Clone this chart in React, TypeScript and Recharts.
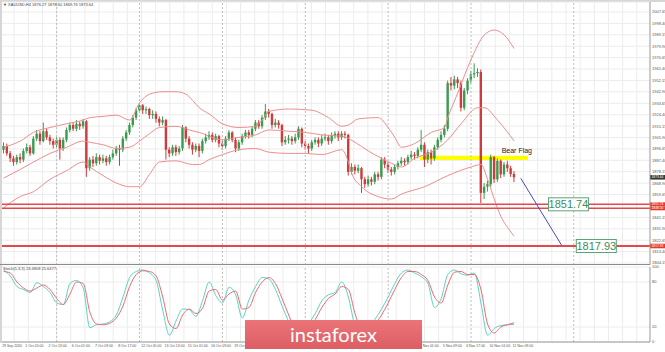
import React from "react";
import {
  ComposedChart,
  Bar,
  Line,
  XAxis,
  YAxis,
  CartesianGrid,
  ReferenceLine,
  ReferenceArea,
  ReferenceDot,
} from "recharts";

const FONT = "'Liberation Sans', Arial, sans-serif";
const GREEN = "#3a9a50";
const RED = "#d03a3a";
const BAND = "#ee8e8e";
const LEVEL = "#e24a4a";

// XAUUSD H4, 29 Sep - 11 Nov 2020 (bar index = position)
const firstOpen = 1896;
const closes = [
  1899, 1893, 1889, 1886, 1890, 1888, 1895, 1898, 1893, 1905,
  1909, 1903, 1911, 1906, 1903, 1900, 1904, 1897, 1904, 1912,
  1916, 1913, 1917, 1915, 1919, 1881, 1888, 1885, 1890, 1887,
  1889, 1886, 1890, 1893, 1897, 1896, 1905, 1910, 1916, 1922,
  1928, 1932, 1928, 1929, 1924, 1925, 1921, 1918, 1920, 1896,
  1893, 1898, 1894, 1897, 1914, 1905, 1900, 1896, 1899, 1895,
  1903, 1906, 1908, 1904, 1907, 1901, 1899, 1905, 1910, 1904,
  1897, 1902, 1907, 1910, 1908, 1913, 1918, 1915, 1922, 1927,
  1925, 1916, 1918, 1916, 1902, 1904, 1905, 1903, 1906, 1913,
  1901, 1899, 1897, 1902, 1904, 1901, 1905, 1906, 1903, 1907,
  1909, 1906, 1909, 1908, 1878, 1882, 1879, 1881, 1872, 1868,
  1872, 1870, 1876, 1874, 1888, 1884, 1880, 1878, 1882, 1885,
  1887, 1886, 1890, 1892, 1891, 1896, 1900, 1888, 1894, 1889,
  1898, 1904, 1908, 1913, 1950, 1948, 1953, 1950, 1930, 1944,
  1952, 1957, 1958, 1959, 1861, 1866, 1868, 1890, 1872, 1887,
  1876, 1884, 1881, 1876.27, 1873.64,
];
const highs = [
  1902, 1901, 1895, 1891, 1892, 1893, 1897, 1901, 1900, 1907,
  1912, 1911, 1918, 1913, 1908, 1905, 1906, 1906, 1906, 1914,
  1918, 1918, 1920, 1919, 1921, 1920, 1890, 1891, 1893, 1892,
  1892, 1891, 1892, 1896, 1899, 1900, 1907, 1912, 1918, 1924,
  1930, 1934, 1933, 1931, 1930, 1928, 1927, 1923, 1923, 1921,
  1898, 1900, 1900, 1899, 1916, 1915, 1907, 1902, 1901, 1901,
  1905, 1909, 1911, 1910, 1909, 1908, 1903, 1907, 1912, 1911,
  1906, 1904, 1909, 1912, 1912, 1915, 1920, 1920, 1924, 1933,
  1929, 1926, 1921, 1920, 1917, 1907, 1908, 1907, 1909, 1915,
  1914, 1903, 1901, 1904, 1906, 1906, 1908, 1909, 1908, 1910,
  1911, 1911, 1911, 1911, 1909, 1885, 1884, 1884, 1882, 1874,
  1875, 1874, 1878, 1878, 1890, 1890, 1886, 1882, 1884, 1887,
  1890, 1889, 1892, 1895, 1894, 1898, 1912, 1902, 1896, 1896,
  1900, 1906, 1911, 1916, 1952, 1955, 1956, 1955, 1952, 1946,
  1954, 1960, 1966, 1962, 1961, 1869, 1871, 1892, 1891, 1889,
  1888, 1886, 1887, 1883, 1878.6,
];
const lows = [
  1893, 1891, 1886, 1883, 1884, 1885, 1886, 1893, 1891, 1892,
  1903, 1900, 1902, 1904, 1900, 1897, 1898, 1888, 1895, 1902,
  1910, 1911, 1911, 1912, 1913, 1874, 1879, 1882, 1883, 1884,
  1885, 1883, 1884, 1888, 1891, 1883, 1894, 1903, 1908, 1914,
  1920, 1926, 1925, 1925, 1921, 1921, 1918, 1915, 1916, 1888,
  1890, 1891, 1891, 1892, 1895, 1902, 1897, 1892, 1894, 1890,
  1893, 1901, 1904, 1902, 1902, 1898, 1896, 1897, 1903, 1902,
  1894, 1895, 1900, 1905, 1905, 1906, 1911, 1913, 1913, 1920,
  1922, 1913, 1914, 1913, 1899, 1900, 1901, 1900, 1901, 1904,
  1898, 1896, 1893, 1895, 1900, 1898, 1899, 1903, 1900, 1901,
  1905, 1903, 1904, 1905, 1875, 1876, 1876, 1877, 1861, 1865,
  1866, 1867, 1868, 1871, 1872, 1881, 1877, 1875, 1876, 1880,
  1883, 1883, 1884, 1888, 1888, 1889, 1894, 1882, 1885, 1884,
  1887, 1896, 1902, 1906, 1911, 1944, 1945, 1946, 1927, 1928,
  1941, 1950, 1954, 1955, 1852.8, 1856, 1862, 1866, 1869, 1870,
  1873, 1874, 1878, 1874, 1869.76,
];

// Bollinger bands: [bar index, price]
const upperBand = [
  [0, 1898], [5, 1903], [9, 1910], [14, 1914], [19, 1917], [24, 1920],
  [26, 1922], [30, 1923], [34, 1924], [38, 1920], [41, 1934], [44, 1941],
  [48, 1943], [52, 1943], [55, 1941], [57, 1936], [59, 1930], [62, 1925],
  [66, 1917], [71, 1914], [76, 1915], [78, 1920], [80, 1927], [86, 1929],
  [93, 1928], [98, 1922], [102, 1915], [104, 1916], [107, 1921], [113, 1922],
  [116, 1914], [118, 1906], [120, 1898], [124, 1901], [129, 1910], [133, 1914],
  [134, 1922], [137, 1942], [141, 1969], [145, 1989], [148, 1993], [151, 1989],
  [154, 1978],
];
const middleBand = [
  [0, 1873], [5, 1880], [9, 1886], [14, 1893], [19, 1898], [24, 1903],
  [26, 1902], [30, 1900], [34, 1897], [38, 1898], [41, 1903], [44, 1909],
  [47, 1914], [52, 1915], [56, 1912], [59, 1910], [66, 1904], [71, 1906],
  [76, 1908], [80, 1912], [86, 1911], [91, 1910], [96, 1908], [102, 1907],
  [106, 1902], [110, 1895], [114, 1889], [117, 1885], [120, 1882], [124, 1889],
  [129, 1894], [134, 1904], [138, 1917], [143, 1930], [145, 1930], [149, 1920],
  [154, 1903],
];
const lowerBand = [
  [0, 1849], [5, 1858], [9, 1862], [14, 1872], [19, 1879], [24, 1886],
  [26, 1882], [30, 1875], [34, 1869], [38, 1866], [41, 1866], [44, 1876],
  [47, 1886], [52, 1887], [57, 1884], [59, 1884], [62, 1888], [66, 1892],
  [71, 1896], [76, 1897], [80, 1894], [86, 1893], [91, 1893], [96, 1892],
  [102, 1896], [104, 1886], [105, 1877], [108, 1866], [113, 1858], [117, 1856],
  [120, 1860], [127, 1866], [134, 1875], [141, 1882], [144, 1884], [146, 1872],
  [148, 1856], [150, 1842], [152, 1833], [154, 1826],
];

// Stochastic, one value every second bar
const stochMain = [
  96, 88, 74, 70, 66, 79, 74, 66, 52, 50,
  78, 82, 72, 19, 23, 24, 27, 36, 60, 86,
  94, 96, 92, 82, 42, 9, 28, 44, 43, 34,
  55, 80, 62, 52, 73, 63, 32, 56, 74, 86,
  84, 70, 48, 27, 10, 12, 24, 38, 55, 63,
  66, 80, 60, 22, 12, 18, 30, 44, 60, 78,
  92, 96, 92, 87, 78, 46, 58, 90, 96, 91,
  89, 92, 52, 9, 18, 22, 23, 23.5,
];
const stochSignal = [
  94, 92, 80, 72, 68, 72, 76, 70, 58, 50,
  64, 80, 78, 40, 24, 23, 25, 32, 48, 74,
  90, 95, 94, 88, 60, 24, 18, 36, 44, 38,
  45, 68, 70, 56, 64, 68, 44, 46, 66, 80,
  86, 78, 58, 36, 16, 10, 18, 30, 46, 58,
  64, 74, 70, 38, 16, 14, 24, 36, 52, 70,
  86, 94, 94, 90, 82, 60, 52, 76, 93, 94,
  90, 90, 70, 24, 12, 20, 23, 25.6,
];

// 1850.40 sits under the red price tags in the source, so it is not printed
const priceTicks = [
  1804.15, 1813.4, 1822.65, 1831.9, 1841.15, 1859.65, 1868.9,
  1878.15, 1887.4, 1896.65, 1905.9, 1915.15, 1924.4, 1933.65, 1942.9,
  1952.15, 1961.4, 1970.65, 1979.9, 1989.15, 1998.4, 2007.65,
];
const stochTicks = [0, 20, 80, 100];
// labels that sit under the instaforex badge are hidden in the source, so they are left out
const timeTicks = [
  0, 7, 14, 21, 28, 35, 42, 49, 56, 63, 70, 126, 133, 140, 147, 154,
];
const timeLabels = [
  "29 Sep 2020", "1 Oct 05:00", "2 Oct 13:00", "6 Oct 01:00", "7 Oct 09:00",
  "8 Oct 17:00", "12 Oct 05:00", "13 Oct 13:00", "15 Oct 01:00", "16 Oct 09:00",
  "19 Oct 17:00", "4 Nov 01:00", "5 Nov 09:00", "6 Nov 17:00", "10 Nov 01:00",
  "11 Nov 09:00",
];
const weekStarts = [16, 41, 66, 91, 116, 141, 172];

const support1 = 1851.74;
const support1b = 1848.5;
const target = 1817.93;
const lastPrice = 1873.64;

const X_DOMAIN = [-0.5, 195];

const bandAt = (list: number[][], i: number) => {
  const hit = list.find((p) => p[0] === i);
  return hit ? hit[1] : undefined;
};

const candles = closes.map((close, i) => ({
  i,
  open: i === 0 ? firstOpen : closes[i - 1],
  close,
  high: highs[i],
  low: lows[i],
  range: [lows[i], highs[i]],
  upper: bandAt(upperBand, i),
  middle: bandAt(middleBand, i),
  lower: bandAt(lowerBand, i),
}));

const stochData = stochMain.map((v, k) => ({ i: k * 2, main: v, signal: stochSignal[k] }));

// light grid every ~14px like the terminal
const gridX = ({ offset }: any) => {
  const out: number[] = [];
  for (let px = 14.15; px < offset.left + offset.width; px += 14.15) out.push(px);
  return out;
};

const Candle = (props: any) => {
  const { x, y, width, height } = props;
  const d = props.payload || props;
  if (x == null || y == null || d.high == null) return null;
  const top = Math.min(y, y + height);
  const h = Math.abs(height);
  const span = d.high - d.low || 1;
  const toY = (v: number) => top + ((d.high - v) / span) * h;
  const cx = x + width / 2;
  const color = d.close >= d.open ? GREEN : RED;
  const bTop = toY(Math.max(d.open, d.close));
  const bBot = toY(Math.min(d.open, d.close));
  return (
    <g>
      <line x1={cx} x2={cx} y1={top} y2={top + h} stroke={color} strokeWidth={1} />
      <rect x={cx - 1.2} y={bTop} width={2.4} height={Math.max(bBot - bTop, 1)} fill={color} />
    </g>
  );
};

const AxisTag = ({ viewBox, text, fill, h = 4 }: any) => {
  if (!viewBox) return null;
  const x = viewBox.x + viewBox.width;
  const y = viewBox.y;
  return (
    <g>
      <rect x={x} y={y - h / 2} width={15} height={h} fill={fill} />
      <text x={x + 1.5} y={y + 1.1} fontSize={3.3} fill="#fff" fontFamily={FONT}>
        {text}
      </text>
    </g>
  );
};

const FlagLabel = ({ viewBox }: any) => {
  if (!viewBox) return null;
  return (
    <text
      x={viewBox.x + viewBox.width + 4}
      y={viewBox.y - 3}
      textAnchor="end"
      fontSize={7}
      fill="#222"
      fontFamily={FONT}
    >
      Bear Flag
    </text>
  );
};

const ValueBox = ({ cx, cy, text }: any) => {
  if (cx == null) return null;
  return (
    <g>
      <rect x={cx - 20} y={cy - 6.5} width={40} height={13} fill="#fff" stroke="#5aa47a" strokeWidth={1} />
      <text x={cx} y={cy + 4} textAnchor="middle" fontSize={11} fill="#3d8c5e" fontFamily={FONT}>
        {text}
      </text>
    </g>
  );
};

const TimeTick = ({ x, y, payload }: any) => {
  const idx = timeTicks.indexOf(payload.value);
  return (
    <text x={x - 1.5} y={y + 3.5} fontSize={3.5} fill="#555" fontFamily={FONT}>
      {timeLabels[idx]}
    </text>
  );
};

export default function App() {
  const axisTick = { fontSize: 4, fill: "#555", fontFamily: FONT };
  return (
    <div
      style={{
        position: "absolute",
        left: 0,
        top: 0,
        width: 665,
        height: 352,
        background: "#fff",
        overflow: "hidden",
        fontFamily: FONT,
      }}
    >
      <div style={{ position: "absolute", left: 0, top: 0, width: 665, height: 2, background: "#d6d6d6" }} />
      <div style={{ position: "absolute", left: 0, top: 0, width: 2, height: 343, background: "#d6d6d6" }} />

      <div style={{ position: "absolute", left: 0, top: 0 }}>
        <ComposedChart width={665} height={265} data={candles} margin={{ top: 2, right: 0, bottom: 0, left: 2 }}>
          <CartesianGrid stroke="#ececec" verticalCoordinatesGenerator={gridX} />
          <XAxis dataKey="i" type="number" domain={X_DOMAIN} hide allowDataOverflow />
          <YAxis
            orientation="right"
            width={15}
            domain={[1802.53, 2015.74]}
            ticks={priceTicks}
            interval={0}
            allowDataOverflow
            tick={axisTick}
            tickLine={false}
            tickSize={0}
            tickMargin={2}
            axisLine={{ stroke: "#999" }}
            tickFormatter={(v: number) => v.toFixed(2)}
          />
          {weekStarts.map((w) => (
            <ReferenceLine key={w} x={w} stroke="#bdbdbd" strokeDasharray="2 2" />
          ))}
          <ReferenceArea
            x1={125.6}
            x2={158.2}
            y1={1887.7}
            y2={1891}
            fill="#ffff00"
            fillOpacity={1}
            stroke="none"
            label={<FlagLabel />}
          />
          <Line dataKey="upper" type="monotone" stroke={BAND} strokeWidth={1} dot={false} connectNulls isAnimationActive={false} />
          <Line dataKey="middle" type="monotone" stroke={BAND} strokeWidth={1} dot={false} connectNulls isAnimationActive={false} />
          <Line dataKey="lower" type="monotone" stroke={BAND} strokeWidth={1} dot={false} connectNulls isAnimationActive={false} />
          <Bar dataKey="range" barSize={3} shape={<Candle />} isAnimationActive={false} />
          <ReferenceLine y={support1} stroke={LEVEL} strokeWidth={1.6} label={<AxisTag text="1851.74" fill="#e53935" />} />
          <ReferenceLine y={support1b} stroke={LEVEL} strokeWidth={1.6} label={<AxisTag text="1848.50" fill="#e53935" />} />
          <ReferenceLine y={target} stroke={LEVEL} strokeWidth={1.8} label={<AxisTag text="1817.93" fill="#e53935" h={4.6} />} />
          <ReferenceLine y={lastPrice} stroke="none" strokeOpacity={0} label={<AxisTag text="1873.64" fill="#3a3a3a" h={4.6} />} />
          <ReferenceLine
            segment={[
              { x: 156, y: 1872.8 },
              { x: 168.3, y: 1818.7 },
            ]}
            stroke="#4a4ac8"
            strokeWidth={1}
          />
          <ReferenceDot x={170.4} y={support1} r={1} shape={<ValueBox text="1851.74" />} />
          <ReferenceDot x={178.8} y={target} r={1} shape={<ValueBox text="1817.93" />} />
        </ComposedChart>
      </div>

      <div style={{ position: "absolute", left: 0, top: 263.5, width: 650, height: 1.5, background: "#8c8c8c" }} />

      <div style={{ position: "absolute", left: 0, top: 265 }}>
        <ComposedChart width={665} height={86} data={stochData} margin={{ top: 2, right: 0, bottom: 0, left: 2 }}>
          <CartesianGrid stroke="#ececec" verticalCoordinatesGenerator={gridX} />
          <XAxis
            dataKey="i"
            type="number"
            domain={X_DOMAIN}
            ticks={timeTicks}
            interval={0}
            height={9}
            tick={<TimeTick />}
            tickLine={false}
            tickSize={0}
            tickMargin={1}
            axisLine={{ stroke: "#999" }}
            allowDataOverflow
          />
          <YAxis
            orientation="right"
            width={15}
            domain={[0, 100]}
            ticks={stochTicks}
            interval={0}
            tick={axisTick}
            tickLine={false}
            tickSize={0}
            tickMargin={2}
            axisLine={{ stroke: "#999" }}
          />
          {weekStarts.map((w) => (
            <ReferenceLine key={w} x={w} stroke="#bdbdbd" strokeDasharray="2 2" />
          ))}
          <Line dataKey="main" type="monotone" stroke="#59d2c8" strokeWidth={1} dot={false} isAnimationActive={false} />
          <Line dataKey="signal" type="monotone" stroke="#ea6a70" strokeWidth={1} dot={false} isAnimationActive={false} />
        </ComposedChart>
      </div>

      <div style={{ position: "absolute", left: 3, top: 2.5, fontSize: 4, lineHeight: "4px", color: "#444", whiteSpace: "nowrap" }}>
        ▼ XAUUSD,H4 1876.27 1878.60 1869.76 1873.64
      </div>
      <div style={{ position: "absolute", left: 3, top: 267, fontSize: 4, lineHeight: "4px", color: "#444", whiteSpace: "nowrap" }}>
        Stoch(5,3,3) 23.4808 25.6477
      </div>

      <div
        style={{
          position: "absolute",
          left: 245,
          top: 320,
          width: 177,
          height: 29,
          background: "linear-gradient(#ea7478, #dd5e63)",
          color: "#fff",
          fontFamily: "Lato, 'Open Sans', sans-serif",
          fontSize: 20,
          lineHeight: "28px",
          textAlign: "center",
        }}
      >
        instaforex
      </div>
    </div>
  );
}
